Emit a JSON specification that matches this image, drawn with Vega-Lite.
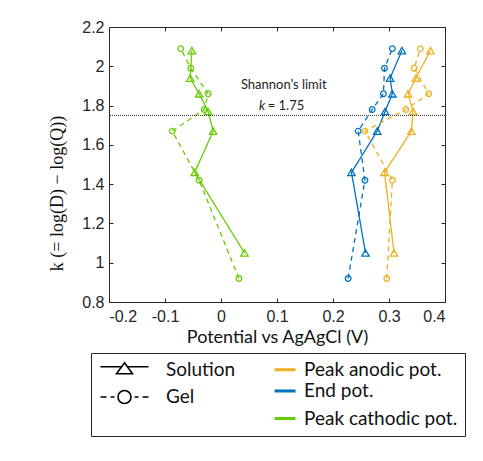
{
  "$schema": "https://vega.github.io/schema/vega-lite/v6.json",
  "width": 336,
  "height": 275,
  "autosize": "none",
  "padding": {"left": 109, "top": 27, "right": 38, "bottom": 159},
  "background": "white",
  "config": {
    "view": {"stroke": null},
    "axis": {
      "domainColor": "#262626", "tickColor": "#262626", "labelColor": "#262626",
      "labelFont": "Liberation Sans", "labelFontSize": 16, "grid": false,
      "tickSize": -4, "tickWidth": 1, "domainWidth": 1
    }
  },
  "datasets": {
    "pts": [
      {"series": "Peak cathodic pot.", "type": "Solution", "x": -0.052, "k": 2.08},
      {"series": "Peak cathodic pot.", "type": "Solution", "x": -0.055, "k": 1.94},
      {"series": "Peak cathodic pot.", "type": "Solution", "x": -0.039, "k": 1.86},
      {"series": "Peak cathodic pot.", "type": "Solution", "x": -0.023, "k": 1.77},
      {"series": "Peak cathodic pot.", "type": "Solution", "x": -0.014, "k": 1.67},
      {"series": "Peak cathodic pot.", "type": "Solution", "x": -0.047, "k": 1.46},
      {"series": "Peak cathodic pot.", "type": "Solution", "x": 0.042, "k": 1.05},
      {"series": "Peak cathodic pot.", "type": "Gel", "x": -0.072, "k": 2.09},
      {"series": "Peak cathodic pot.", "type": "Gel", "x": -0.054, "k": 1.99},
      {"series": "Peak cathodic pot.", "type": "Gel", "x": -0.023, "k": 1.86},
      {"series": "Peak cathodic pot.", "type": "Gel", "x": -0.030, "k": 1.78},
      {"series": "Peak cathodic pot.", "type": "Gel", "x": -0.087, "k": 1.67},
      {"series": "Peak cathodic pot.", "type": "Gel", "x": -0.039, "k": 1.42},
      {"series": "Peak cathodic pot.", "type": "Gel", "x": 0.032, "k": 0.92},
      {"series": "End pot.", "type": "Solution", "x": 0.323, "k": 2.08},
      {"series": "End pot.", "type": "Solution", "x": 0.302, "k": 1.94},
      {"series": "End pot.", "type": "Solution", "x": 0.306, "k": 1.86},
      {"series": "End pot.", "type": "Solution", "x": 0.293, "k": 1.77},
      {"series": "End pot.", "type": "Solution", "x": 0.279, "k": 1.67},
      {"series": "End pot.", "type": "Solution", "x": 0.233, "k": 1.46},
      {"series": "End pot.", "type": "Solution", "x": 0.258, "k": 1.05},
      {"series": "End pot.", "type": "Gel", "x": 0.306, "k": 2.09},
      {"series": "End pot.", "type": "Gel", "x": 0.292, "k": 1.99},
      {"series": "End pot.", "type": "Gel", "x": 0.290, "k": 1.86},
      {"series": "End pot.", "type": "Gel", "x": 0.270, "k": 1.78},
      {"series": "End pot.", "type": "Gel", "x": 0.245, "k": 1.67},
      {"series": "End pot.", "type": "Gel", "x": 0.257, "k": 1.42},
      {"series": "End pot.", "type": "Gel", "x": 0.227, "k": 0.92},
      {"series": "Peak anodic pot.", "type": "Solution", "x": 0.374, "k": 2.08},
      {"series": "Peak anodic pot.", "type": "Solution", "x": 0.348, "k": 1.94},
      {"series": "Peak anodic pot.", "type": "Solution", "x": 0.334, "k": 1.86},
      {"series": "Peak anodic pot.", "type": "Solution", "x": 0.343, "k": 1.77},
      {"series": "Peak anodic pot.", "type": "Solution", "x": 0.340, "k": 1.67},
      {"series": "Peak anodic pot.", "type": "Solution", "x": 0.292, "k": 1.46},
      {"series": "Peak anodic pot.", "type": "Solution", "x": 0.309, "k": 1.05},
      {"series": "Peak anodic pot.", "type": "Gel", "x": 0.356, "k": 2.09},
      {"series": "Peak anodic pot.", "type": "Gel", "x": 0.345, "k": 1.99},
      {"series": "Peak anodic pot.", "type": "Gel", "x": 0.371, "k": 1.86},
      {"series": "Peak anodic pot.", "type": "Gel", "x": 0.330, "k": 1.78},
      {"series": "Peak anodic pot.", "type": "Gel", "x": 0.257, "k": 1.67},
      {"series": "Peak anodic pot.", "type": "Gel", "x": 0.306, "k": 1.42},
      {"series": "Peak anodic pot.", "type": "Gel", "x": 0.296, "k": 0.92}
    ],
    "legendEntries": [
      {"entry": "Solution"},
      {"entry": "Gel"},
      {"entry": " "},
      {"entry": "Peak anodic pot."},
      {"entry": "End pot."},
      {"entry": "Peak cathodic pot."}
    ]
  },
  "resolve": {"axis": {"x": "independent", "y": "independent"}},
  "layer": [
    {
      "data": {"name": "pts"},
      "mark": {"type": "line", "strokeWidth": 1.3},
      "encoding": {
        "x": {"field": "x", "type": "quantitative",
          "scale": {"domain": [-0.2, 0.4], "nice": false, "zero": false},
          "axis": {"orient": "bottom", "values": [-0.2, -0.1, 0, 0.1, 0.2, 0.3, 0.4],
            "labelExpr": "toString(round(datum.value*10)/10)", "labelPadding": 10,
            "title": "Potential vs AgAgCl (V)", "titleFont": "Lato", "titleFontSize": 18,
            "titleFontWeight": "normal", "titleColor": "#111", "titlePadding": 4}},
        "y": {"field": "k", "type": "quantitative",
          "scale": {"domain": [0.8, 2.2], "nice": false, "zero": false},
          "axis": {"orient": "left", "values": [0.8, 1, 1.2, 1.4, 1.6, 1.8, 2, 2.2],
            "labelExpr": "toString(round(datum.value*10)/10)", "labelPadding": 9,
            "title": "k  (= log(D) − log(Q))", "titleFont": "Liberation Serif", "titleFontSize": 18,
            "titleFontWeight": "normal", "titleColor": "#111", "titlePadding": 15, "titleY": 166}},
        "color": {"field": "series", "type": "nominal",
          "scale": {"domain": ["Peak anodic pot.", "End pot.", "Peak cathodic pot."],
            "range": ["#EDB120", "#0072BD", "#66CC00"]}, "legend": null},
        "strokeDash": {"field": "type", "type": "nominal",
          "scale": {"domain": ["Solution", "Gel"], "range": [[1, 0], [5, 4]]}, "legend": null},
        "order": {"field": "k", "type": "quantitative"}
      }
    },
    {
      "data": {"name": "pts"},
      "transform": [{"filter": "datum.type === 'Solution'"}],
      "mark": {"type": "point", "shape": "triangle-up", "size": 55, "filled": false, "strokeWidth": 1.3, "opacity": 1},
      "encoding": {
        "x": {"field": "x", "type": "quantitative", "axis": null},
        "y": {"field": "k", "type": "quantitative", "axis": null},
        "color": {"field": "series", "type": "nominal", "legend": null}
      }
    },
    {
      "data": {"name": "pts"},
      "transform": [{"filter": "datum.type === 'Gel'"}],
      "mark": {"type": "point", "shape": "circle", "size": 32, "filled": false, "strokeWidth": 1.3, "opacity": 1},
      "encoding": {
        "x": {"field": "x", "type": "quantitative", "axis": null},
        "y": {"field": "k", "type": "quantitative", "axis": null},
        "color": {"field": "series", "type": "nominal", "legend": null}
      }
    },
    {
      "data": {"values": [{"limit": 1.75}]},
      "mark": {"type": "rule", "color": "#333333", "strokeDash": [1, 1], "strokeWidth": 1},
      "encoding": {"y": {"field": "limit", "type": "quantitative", "axis": null}}
    },
    {
      "data": {"values": [{"x": 0.112, "k": 1.903, "label": "Shannon’s limit"}]},
      "mark": {"type": "text", "font": "Lato", "fontSize": 13, "color": "#222", "align": "center", "baseline": "middle"},
      "encoding": {
        "x": {"field": "x", "type": "quantitative",
          "axis": {"orient": "top", "values": [-0.2, -0.1, 0, 0.1, 0.2, 0.3, 0.4], "labels": false, "title": null}},
        "y": {"field": "k", "type": "quantitative",
          "axis": {"orient": "right", "values": [0.8, 1, 1.2, 1.4, 1.6, 1.8, 2, 2.2], "labels": false, "title": null}},
        "text": {"field": "label"}
      }
    },
    {
      "data": {"values": [{"x": 0.0834, "k": 1.796, "label": "= 1.75"}]},
      "mark": {"type": "text", "font": "Lato", "fontSize": 13, "color": "#222", "align": "left", "baseline": "middle"},
      "encoding": {
        "x": {"field": "x", "type": "quantitative", "axis": null},
        "y": {"field": "k", "type": "quantitative", "axis": null},
        "text": {"field": "label"}
      }
    },
    {
      "data": {"values": [{"x": 0.079, "k": 1.796, "label": "k"}]},
      "mark": {"type": "text", "font": "Lato", "fontSize": 13, "fontStyle": "italic", "color": "#222", "align": "right", "baseline": "middle"},
      "encoding": {
        "x": {"field": "x", "type": "quantitative", "axis": null},
        "y": {"field": "k", "type": "quantitative", "axis": null},
        "text": {"field": "label"}
      }
    },
    {
      "data": {"name": "legendEntries"},
      "mark": {"type": "point", "filled": true, "opacity": 0},
      "encoding": {
        "shape": {"field": "entry", "type": "nominal",
          "scale": {"domain": ["Solution", "Gel", " ", "Peak anodic pot.", "End pot.", "Peak cathodic pot."],
            "range": [
              "M-1.4,-0.6L2.8,-0.6M4,-0.6L8.2,-0.6M3.4,-1.4L5,0.8L1.8,0.8Z",
              "M-1.4,1.2L-0.2,1.2M0.6,1.2L1.4,1.2M5.4,1.2L6.2,1.2M7,1.2L8.2,1.2M4.7,1.2A1.3,1.3 0 1,1 2.1,1.2A1.3,1.3 0 1,1 4.7,1.2Z",
              "M0,0L0,0",
              "M5.8,-0.3L10,-0.3L10,0.3L5.8,0.3Z",
              "M5.8,-0.3L10,-0.3L10,0.3L5.8,0.3Z",
              "M5.8,-0.3L10,-0.3L10,0.3L5.8,0.3Z"
            ]},
          "legend": {"orient": "none", "legendX": -18, "legendY": 326, "columns": 2, "title": null,
            "strokeColor": "#262626", "fillColor": "white", "padding": 7,
            "labelFont": "Lato", "labelFontSize": 19, "labelColor": "#111", "labelOffset": 49, "labelLimit": 300,
            "symbolSize": 100, "symbolStrokeWidth": 1.6, "symbolOpacity": 1,
            "rowPadding": 1.5, "columnPadding": -39,
            "encode": {"labels": {"update": {"dy": {"signal": "datum.label === 'Gel' ? 6 : 0"}}}}}},
        "fill": {"field": "entry", "type": "nominal",
          "scale": {"domain": ["Solution", "Gel", " ", "Peak anodic pot.", "End pot.", "Peak cathodic pot."],
            "range": ["transparent", "transparent", "transparent", "#EDB120", "#0072BD", "#66CC00"]},
          "legend": {"orient": "none", "legendX": -18, "legendY": 326, "columns": 2, "title": null,
            "strokeColor": "#262626", "fillColor": "white", "padding": 7,
            "labelFont": "Lato", "labelFontSize": 19, "labelColor": "#111", "labelOffset": 49, "labelLimit": 300,
            "symbolSize": 100, "symbolStrokeWidth": 1.6, "symbolOpacity": 1,
            "rowPadding": 1.5, "columnPadding": -39,
            "encode": {"labels": {"update": {"dy": {"signal": "datum.label === 'Gel' ? 6 : 0"}}}}}},
        "stroke": {"field": "entry", "type": "nominal",
          "scale": {"domain": ["Solution", "Gel", " ", "Peak anodic pot.", "End pot.", "Peak cathodic pot."],
            "range": ["#000000", "#000000", "transparent", "transparent", "transparent", "transparent"]},
          "legend": {"orient": "none", "legendX": -18, "legendY": 326, "columns": 2, "title": null,
            "strokeColor": "#262626", "fillColor": "white", "padding": 7,
            "labelFont": "Lato", "labelFontSize": 19, "labelColor": "#111", "labelOffset": 49, "labelLimit": 300,
            "symbolSize": 100, "symbolStrokeWidth": 1.6, "symbolOpacity": 1,
            "rowPadding": 1.5, "columnPadding": -39,
            "encode": {"labels": {"update": {"dy": {"signal": "datum.label === 'Gel' ? 6 : 0"}}}}}}
      }
    }
  ]
}
